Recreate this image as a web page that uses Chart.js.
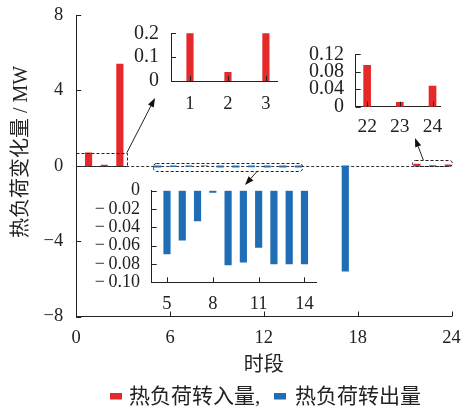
<!DOCTYPE html>
<html>
<head>
<meta charset="utf-8">
<script src="https://cdn.jsdelivr.net/npm/chart.js@4.4.1/dist/chart.umd.min.js"></script>
<style>
  html, body { margin: 0; padding: 0; background: #fff; }
  #wrap { position: relative; width: 461px; height: 410px; overflow: hidden; }
  #wrap canvas { position: absolute; }
</style>
</head>
<body>
<div id="wrap">
  <canvas id="main" width="461" height="410" style="left:0;top:0;width:461px;height:410px"></canvas>
  <canvas id="insetA" width="170" height="95" style="left:120px;top:20px;width:170px;height:95px"></canvas>
  <canvas id="insetB" width="245" height="145" style="left:80px;top:175px;width:245px;height:145px"></canvas>
  <canvas id="insetC" width="155" height="105" style="left:300px;top:40px;width:155px;height:105px"></canvas>
</div>
<script>
// Hourly heat-load shift (MW), hours 1..24
const hours = [1, 2, 3, 4, 5, 6, 7, 8, 9, 10, 11, 12, 13, 14, 15, 16, 17, 18, 19, 20, 21, 22, 23, 24];
const heatIn = [0.69, 0.036, 5.40, null, null, null, null, null, null, null, null, null,
                null, null, null, null, null, null, null, null, null, 0.095, 0.010, 0.047];
const heatOut = [null, null, null, null, -0.069, -0.054, -0.033, -0.002, -0.081, -0.078, -0.062, -0.080,
                 -0.080, -0.080, null, null, -5.59, null, null, null, null, null, null, null];
const seriesNames = ['热负荷转入量,', '热负荷转出量'];
const xTitle = '时段';
const yTitle = '热负荷变化量 / MW';

// Tick values for the main plot and the three zoomed views
const mainXTicks = [0, 6, 12, 18, 24];
const mainYTicks = [-8, -4, 0, 4, 8];
const insetAXTicks = [1, 2, 3];
const insetAYTicks = [0, 0.1, 0.2];
const insetBXTicks = [5, 8, 11, 14];
const insetBYTicks = [-0.1, -0.08, -0.06, -0.04, -0.02, 0];
const insetCXTicks = [22, 23, 24];
const insetCYTicks = [0, 0.04, 0.08, 0.12];

const RED = '#e5292b';
const BLUE = '#1f6db5';
const INK = '#222';
const SERIF = '"Liberation Serif", "Times New Roman", serif';
const MIXED = '"Liberation Serif", "Noto Sans CJK SC", serif';

const pts = vals => hours.map((h, i) => ({ x: h, y: vals[i] }));
const minus = s => s.replace('-', '\u2212');

// Let the layout padding alone decide where the plot area sits
function noScalePadding(s) {
  s.paddingTop = 0; s.paddingBottom = 0; s.paddingLeft = 0; s.paddingRight = 0;
}

function xAxis(min, max, tickVals, size, pad, height, fmt) {
  return {
    type: 'linear', min, max, offset: false,
    grid: { display: false, drawTicks: false },
    border: { display: true, color: INK, width: 1 },
    ticks: { font: { family: SERIF, size }, color: INK, padding: pad, autoSkip: false, maxRotation: 0,
             callback: v => fmt(v) },
    afterBuildTicks: s => { s.ticks = tickVals.map(v => ({ value: v })); },
    afterFit: s => { s.height = height; noScalePadding(s); }
  };
}
function yAxis(min, max, tickVals, size, pad, width, fmt) {
  return {
    type: 'linear', min, max,
    grid: { display: false, drawTicks: false },
    border: { display: true, color: INK, width: 1 },
    ticks: { font: { family: SERIF, size }, color: INK, padding: pad, autoSkip: false,
             callback: v => fmt(v) },
    afterBuildTicks: s => { s.ticks = tickVals.map(v => ({ value: v })); },
    afterFit: s => { s.width = width; noScalePadding(s); }
  };
}

// Short tick marks pointing into the plot area
const inwardTicks = {
  id: 'inwardTicks',
  afterDatasetsDraw(chart, args, o) {
    const { ctx, chartArea: a, scales: { x, y } } = chart;
    const len = o.len || 5;
    ctx.save();
    ctx.strokeStyle = INK; ctx.lineWidth = 1;
    ctx.beginPath();
    x.ticks.forEach(t => {
      const p = Math.round(x.getPixelForValue(t.value)) + 0.5;
      ctx.moveTo(p, a.bottom); ctx.lineTo(p, a.bottom - len);
    });
    y.ticks.forEach(t => {
      const p = Math.round(y.getPixelForValue(t.value)) + 0.5;
      ctx.moveTo(a.left, p); ctx.lineTo(a.left + len, p);
    });
    ctx.stroke();
    ctx.restore();
  }
};

function arrow(ctx, x0, y0, x1, y1) {
  const ang = Math.atan2(y1 - y0, x1 - x0);
  const hl = 9, hw = 3.2;
  const bx = x1 - hl * Math.cos(ang), by = y1 - hl * Math.sin(ang);
  ctx.beginPath();
  ctx.moveTo(x0, y0); ctx.lineTo(bx, by);
  ctx.stroke();
  ctx.beginPath();
  ctx.moveTo(x1, y1);
  ctx.lineTo(bx + hw * Math.sin(ang), by - hw * Math.cos(ang));
  ctx.lineTo(bx - hw * Math.sin(ang), by + hw * Math.cos(ang));
  ctx.closePath();
  ctx.fill();
}

// Zero line, zoom frames with pointers, axis titles and legend
const decorations = {
  id: 'decorations',
  beforeDatasetsDraw(chart) {
    const { ctx, chartArea: a, scales: { y } } = chart;
    const y0 = Math.round(y.getPixelForValue(0)) + 0.5;
    ctx.save();
    ctx.strokeStyle = '#333'; ctx.lineWidth = 1; ctx.setLineDash([3, 2]);
    ctx.beginPath(); ctx.moveTo(a.left, y0); ctx.lineTo(a.right, y0); ctx.stroke();
    ctx.restore();
  },
  afterDraw(chart) {
    const { ctx, scales: { x, y } } = chart;
    const X = v => x.getPixelForValue(v), Y = v => y.getPixelForValue(v);
    ctx.save();
    ctx.strokeStyle = '#222'; ctx.fillStyle = '#111'; ctx.lineWidth = 1;
    const frames = [
      { x0: 0, x1: 3.24, y0: 0, y1: 0.69, r: 0 },
      { x0: 4.9, x1: 14.45, y0: -0.27, y1: 0.16, r: 3 },
      { x0: 21.5, x1: 24.05, y0: 0, y1: 0.3, r: 3 }
    ];
    ctx.setLineDash([3, 2]);
    frames.forEach(f => {
      const l = Math.round(X(f.x0)) + 0.5, r = Math.round(X(f.x1)) + 0.5;
      const t = Math.round(Y(f.y1)) + 0.5, b = Math.round(Y(f.y0)) + 0.5;
      ctx.beginPath();
      ctx.roundRect(l, t, r - l, b - t, f.r);
      ctx.stroke();
    });
    ctx.setLineDash([]);
    arrow(ctx, X(3.24), Y(0.69), 155, 98);
    arrow(ctx, X(11.6), Y(-0.27), 245, 185);
    arrow(ctx, X(22.2), Y(0.3), 415, 138);

    // axis titles
    ctx.fillStyle = INK;
    ctx.font = '20px ' + MIXED;
    ctx.textAlign = 'center'; ctx.textBaseline = 'middle';
    ctx.fillText(xTitle, (chart.chartArea.left + chart.chartArea.right) / 2, 366);
    ctx.save();
    ctx.translate(22, 152);
    ctx.rotate(-Math.PI / 2);
    ctx.fillText(yTitle, 0, 0);
    ctx.restore();

    // legend
    const ds = chart.data.datasets;
    ctx.font = '21px ' + MIXED;
    ctx.textAlign = 'left';
    const items = [{ bx: 110, tx: 129 }, { bx: 274, tx: 295 }];
    items.forEach((it, i) => {
      ctx.fillStyle = ds[i].backgroundColor;
      ctx.fillRect(it.bx, 393, 12, 6.5);
      ctx.fillStyle = INK;
      ctx.fillText(ds[i].label, it.tx, 397);
    });
    ctx.restore();
  }
};

const common = {
  responsive: false, animation: false, devicePixelRatio: 1,
  events: [],
  plugins: { legend: { display: false }, tooltip: { enabled: false } }
};

// Main plot
new Chart(document.getElementById('main'), {
  type: 'bar',
  data: {
    datasets: [
      { label: seriesNames[0], data: pts(heatIn), backgroundColor: RED, barThickness: 6.5 },
      { label: seriesNames[1], data: pts(heatOut), backgroundColor: BLUE, barThickness: 6.5 }
    ]
  },
  options: {
    ...common,
    layout: { padding: { left: 0, top: 15, right: 9.5, bottom: 0 } },
    plugins: { ...common.plugins, inwardTicks: { len: 5 } },
    scales: {
      x: xAxis(0, 24, mainXTicks, 18.5, 11, 93.5, v => String(v)),
      y: yAxis(-8, 8, mainYTicks, 18.5, 13, 76.2, v => minus(String(v)))
    }
  },
  plugins: [decorations, inwardTicks]
});

function inset(id, data, color, thick, pad, xs, ys) {
  new Chart(document.getElementById(id), {
    type: 'bar',
    data: { datasets: [{ data: pts(data), backgroundColor: color, barThickness: thick }] },
    options: {
      ...common,
      layout: { padding: pad },
      plugins: { ...common.plugins, inwardTicks: { len: 5 } },
      scales: { x: xs, y: ys }
    },
    plugins: [inwardTicks]
  });
}

// Hours 1-3, inflow
inset('insetA', heatIn, RED, 6.5, { left: 0, top: 13.3, right: 12.7, bottom: 0 },
  xAxis(0.5, 3.3, insetAXTicks, 18.5, 11.6, 34, v => String(v)),
  yAxis(0, 0.2, insetAYTicks, 20, 12, 51, v => v === 0 ? '0' : v.toFixed(1)));

// Hours 5-14, outflow
inset('insetB', heatOut, BLUE, 6.5, { left: 0, top: 15.7, right: 8.3, bottom: 0 },
  xAxis(4, 14.8, insetBXTicks, 18.5, 10.3, 37.7, v => String(v)),
  yAxis(-0.1, 0, insetBYTicks, 18, 11.7, 71.7, v => v === 0 ? '0' : '\u2212\u2009' + Math.abs(v).toFixed(2)));

// Hours 22-24, inflow
inset('insetC', heatIn, RED, 7, { left: 0, top: 14.3, right: 14.3, bottom: 0 },
  xAxis(21.65, 24.25, insetCXTicks, 19.5, 8.8, 38.3, v => String(v)),
  yAxis(0, 0.12, insetCYTicks, 20, 11.7, 55.7, v => v === 0 ? '0' : v.toFixed(2)));
</script>
</body>
</html>
